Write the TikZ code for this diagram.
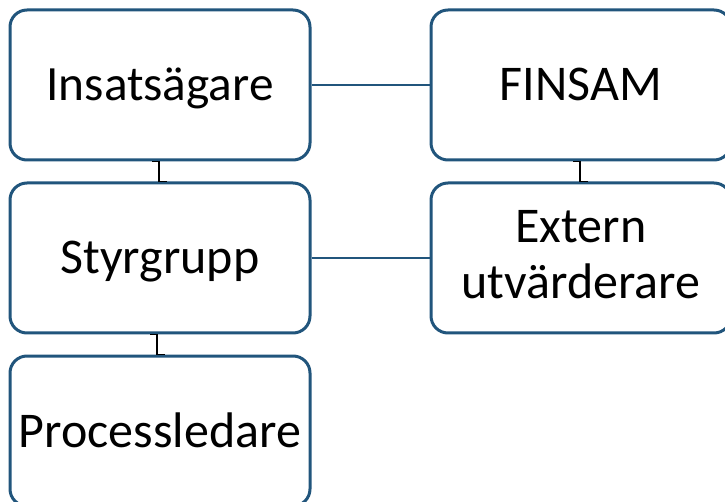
\documentclass[tikz,border=0pt]{standalone}
\usepackage{fontspec}
\setmainfont{Carlito}
\definecolor{boxblue}{RGB}{33,85,124}

\begin{document}
\begin{tikzpicture}[x=1pt,y=-1pt,
	box/.style={draw=boxblue, line width=3pt, rounded corners=17pt,
		minimum width=300pt, minimum height=150pt, inner sep=0pt,
		text height=34pt, text depth=2pt,
		align=center, font=\fontsize{50}{56}\selectfont},
	link/.style={draw=boxblue, line width=2.3pt},
	elbow/.style={draw=black, line width=1.3pt}]
	\useasboundingbox (0,0) rectangle (725,502);
	\node[box, font=\fontsize{49.3}{56}\selectfont] (ins) at (160,85) {Insatsägare};
	\node[box] (fin) at (581,85) {FINSAM};
	\node[box] (sty) at (160,258) {Styrgrupp};
	\node[box, text height=85pt, text depth=3pt] (ext) at (581,258) {Extern\\utvärderare};
	\node[box] (pro) at (160,431) {Processledare};
	\draw[link] (ins.east) -- (fin.west);
	\draw[link] (sty.east) -- (ext.west);
	\draw[elbow] ([xshift=-8pt]ins.south) -- ++(7,0) |- ([xshift=7pt]sty.north);
	\draw[elbow] ([xshift=-8pt]fin.south) -- ++(7,0) |- ([xshift=7pt]ext.north);
	\draw[elbow] ([xshift=-10pt]sty.south) -- ++(7,0) |- ([xshift=5pt]pro.north);
\end{tikzpicture}
\end{document}
